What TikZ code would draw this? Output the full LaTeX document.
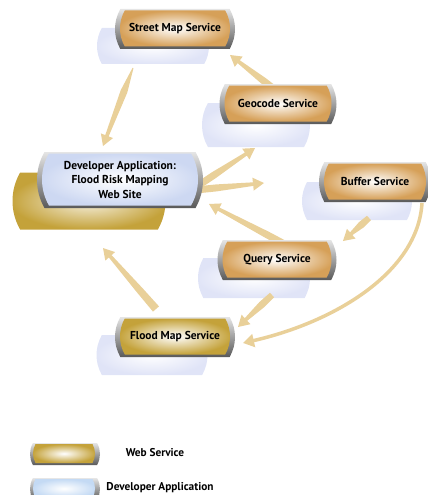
\documentclass[tikz,border=0pt]{standalone}
\usepackage{fontspec}
\setmainfont{PT Sans}
\usetikzlibrary{shapes.misc,calc,arrows.meta}
\definecolor{arrowc}{RGB}{233,208,153}
\definecolor{tanc}{RGB}{214,160,88}
\definecolor{olivec}{RGB}{196,162,58}
\definecolor{lavc}{RGB}{224,228,247}
\definecolor{devblue}{RGB}{205,216,242}
\definecolor{legblue}{RGB}{196,218,244}
\tikzset{
  rim/.style={rounded rectangle, rounded rectangle arc length=60, inner sep=0pt,
    top color=gray!20, bottom color=gray!70!black},
  boxbase/.style={rounded rectangle, rounded rectangle arc length=60, inner sep=0pt,
    align=center, font=\bfseries\fontsize{11.5}{14.5}\selectfont},
  svc/.style={boxbase, inner color=white, outer color=tanc},
  gold/.style={boxbase, inner color=white, outer color=olivec},
  devbox/.style={boxbase, inner color=white, outer color=devblue},
  shadowbox/.style={rounded rectangle, rounded rectangle arc length=60, inner sep=0pt,
    inner color=white, outer color=lavc},
  goldshadow/.style={rounded rectangle, rounded rectangle arc length=60, inner sep=0pt,
    inner color=white!85!olivec, outer color=olivec},
  legtext/.style={font=\bfseries\fontsize{11.3}{13}\selectfont, inner sep=0pt},
  curveflow/.style={draw=arrowc, line width=3.5pt, -{Triangle[width=13pt,length=11pt]}}
}
\newcommand\tarrow[3]{%
  \fill[arrowc] ($(#1)!#3!90:(#2)$) -- ($(#1)!0.3!(#2)!3.5pt!90:(#2)$)
   -- ($(#2)!11pt!(#1)!1.8pt!90:(#2)$) -- ($(#2)!11pt!(#1)!6.5pt!90:(#2)$)
   -- (#2) -- ($(#2)!11pt!(#1)!6.5pt!-90:(#2)$) -- ($(#2)!11pt!(#1)!1.8pt!-90:(#2)$)
   -- ($(#1)!0.3!(#2)!3.5pt!-90:(#2)$) -- ($(#1)!#3!-90:(#2)$) -- cycle;}
\begin{document}
\begin{tikzpicture}[x=1pt,y=-1pt]
\useasboundingbox (0,0) rectangle (428,495);
% shadows
\node[shadowbox, minimum width=112pt, minimum height=36pt] (streetsh) at (153,46) {};
\node[shadowbox, minimum width=108pt, minimum height=44pt] (geosh) at (256,125) {};
\node[goldshadow, minimum width=153pt, minimum height=57pt] (devsh) at (89,201) {};
\node[shadowbox, minimum width=110pt, minimum height=38pt] (bufsh) at (357,201) {};
\node[shadowbox, minimum width=112pt, minimum height=40pt] (querysh) at (254,278) {};
\node[shadowbox, minimum width=111pt, minimum height=40pt] (floodsh) at (152,355) {};
% arrow end points
\coordinate (a1s) at (133,68);  \coordinate (a1e) at (103,146);
\coordinate (a2s) at (278,92);  \coordinate (a2e) at (230,55);
\coordinate (a3s) at (196,187); \coordinate (a3e) at (255,148);
\coordinate (a4s) at (196,190); \coordinate (a4e) at (264,183);
\coordinate (a5s) at (292,248); \coordinate (a5e) at (209,204);
\coordinate (a6s) at (369,218); \coordinate (a6e) at (343,241);
\coordinate (a7s) at (422,203); \coordinate (a7e) at (243,343);
\coordinate (a8s) at (272,295); \coordinate (a8e) at (238,327);
\coordinate (a9s) at (156,309); \coordinate (a9e) at (103,248);
\tarrow{a1s}{a1e}{0.5pt}
\tarrow{a2s}{a2e}{3.5pt}
\tarrow{a3s}{a3e}{3.5pt}
\tarrow{a4s}{a4e}{3.5pt}
\tarrow{a5s}{a5e}{3.5pt}
\tarrow{a6s}{a6e}{3pt}
\tarrow{a8s}{a8e}{3pt}
\tarrow{a9s}{a9e}{4pt}
\draw[curveflow] (a7s) .. controls (418,272) and (335,322) .. (a7e);
% boxes
\node[rim, minimum width=120pt, minimum height=40pt] (streetrim) at (175,29) {};
\node[svc, minimum width=110pt, minimum height=36pt] (street) at (175,28.5) {Street Map Service};
\node[rim, minimum width=117pt, minimum height=40pt] (georim) at (278,104) {};
\node[svc, minimum width=107pt, minimum height=36pt] (geo) at (278,103.5) {Geocode Service};
\node[rim, minimum width=166pt, minimum height=56pt] (devrim) at (120,180) {};
\node[devbox, minimum width=156pt, minimum height=52pt] (dev) at (120,179.5) {Developer Application:\\Flood Risk Mapping\\Web Site};
\node[rim, minimum width=112pt, minimum height=40pt] (bufrim) at (375,182) {};
\node[svc, minimum width=102pt, minimum height=36pt] (buf) at (375,181.5) {Buffer Service};
\node[rim, minimum width=119pt, minimum height=40pt] (queryrim) at (277,260) {};
\node[svc, minimum width=109pt, minimum height=36pt] (query) at (277,259.5) {Query Service};
\node[rim, minimum width=120pt, minimum height=40pt] (floodrim) at (175,337) {};
\node[gold, minimum width=110pt, minimum height=36pt] (flood) at (175,336.5) {Flood Map Service};
% legend
\node[rim, minimum width=70pt, minimum height=22pt] (webswrim) at (65,454) {};
\node[gold, minimum width=62pt, minimum height=19pt] (websw) at (64,453.5) {};
\node[legtext] (webtxt) at (155,453) {Web Service};
\node[rim, minimum width=70pt, minimum height=22pt] (devswrim) at (65,489) {};
\node[boxbase, inner color=white, outer color=legblue, minimum width=62pt, minimum height=19pt] (devsw) at (64,488.5) {};
\node[legtext] (devtxt) at (160,488) {Developer Application};
\end{tikzpicture}
\end{document}
